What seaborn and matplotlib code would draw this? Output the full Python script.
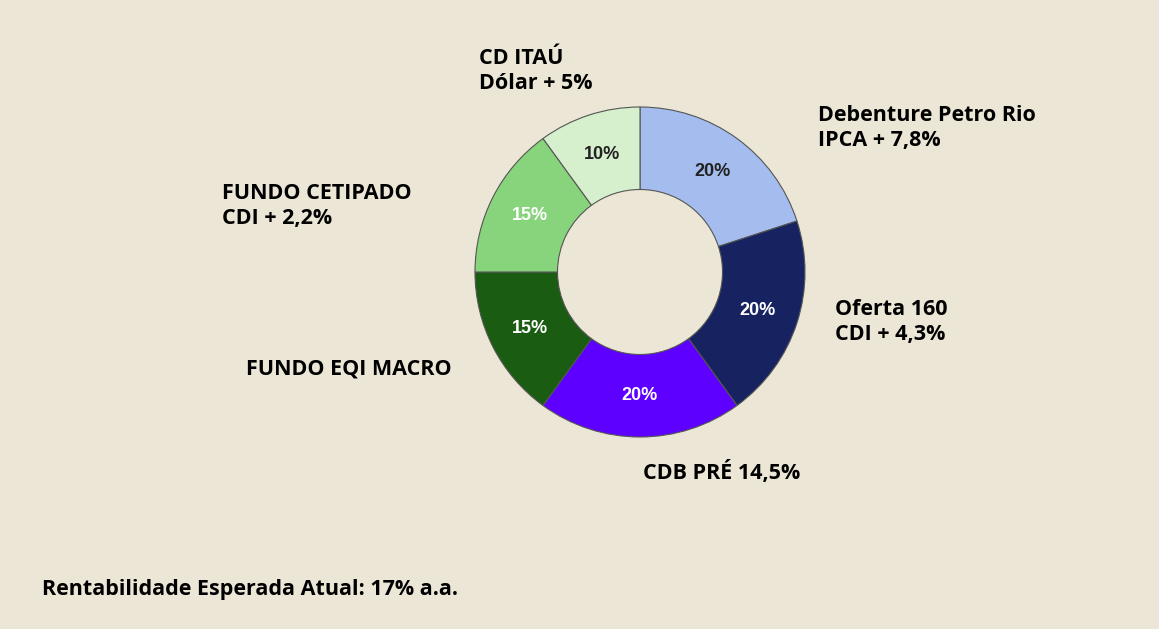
import matplotlib
matplotlib.use("Agg")
import matplotlib.pyplot as plt
import seaborn as sns
import numpy as np

sns.set_theme(style="white")

shares = [20, 20, 20, 15, 15, 10]
pct_labels = ["20%", "20%", "20%", "15%", "15%", "10%"]
colors = ["#a4bdee", "#172361", "#5e00ff", "#1a5c12", "#88d47c", "#d6efcc"]
pct_colors = ["#222222", "white", "white", "white", "white", "#222222"]
names = ["Debenture Petro Rio\nIPCA + 7,8%", "Oferta 160\nCDI + 4,3%", "CDB PRÉ 14,5%",
         "FUNDO EQI MACRO", "FUNDO CETIPADO\nCDI + 2,2%", "CD ITAÚ\nDólar + 5%"]
name_pos = [(818, 128), (835, 322), (643, 472), (246, 369), (222, 206), (479, 71)]
bg = "#ebe6d5"

W, H = 1159, 629
fig = plt.figure(figsize=(W / 100, H / 100), dpi=100, facecolor=bg)
cx, cy, r = 640, 272, 165
ax = fig.add_axes([(cx - r) / W, (H - cy - r) / H, 2 * r / W, 2 * r / H])
ax.set_facecolor(bg)

wedges, texts = ax.pie(shares, colors=colors, startangle=90, counterclock=False,
                       radius=1.0, wedgeprops=dict(width=0.5, edgecolor="#555555", linewidth=0.8))
ang = 90
for s, lab, c in zip(shares, pct_labels, pct_colors):
    mid = np.radians(ang - s * 3.6 / 2)
    ax.text(0.75 * np.cos(mid), 0.75 * np.sin(mid), lab, ha="center", va="center",
            color=c, fontsize=13, fontweight="bold", family="Liberation Sans")
    ang -= s * 3.6
ax.set_xlim(-1.0, 1.0)
ax.set_ylim(-1.0, 1.0)
ax.set_aspect("equal")
ax.axis("off")

for name, (px, py) in zip(names, name_pos):
    fig.text(px / W, 1 - py / H, name, ha="left", va="center", fontsize=15.5,
             fontweight="bold", family="Open Sans", color="black", linespacing=1.3)

fig.text(42 / W, 1 - 589 / H, "Rentabilidade Esperada Atual: 17% a.a.", ha="left", va="center",
         fontsize=15.5, fontweight="bold", family="Open Sans", color="black")

fig.savefig("out.png", dpi=100, facecolor=bg)
